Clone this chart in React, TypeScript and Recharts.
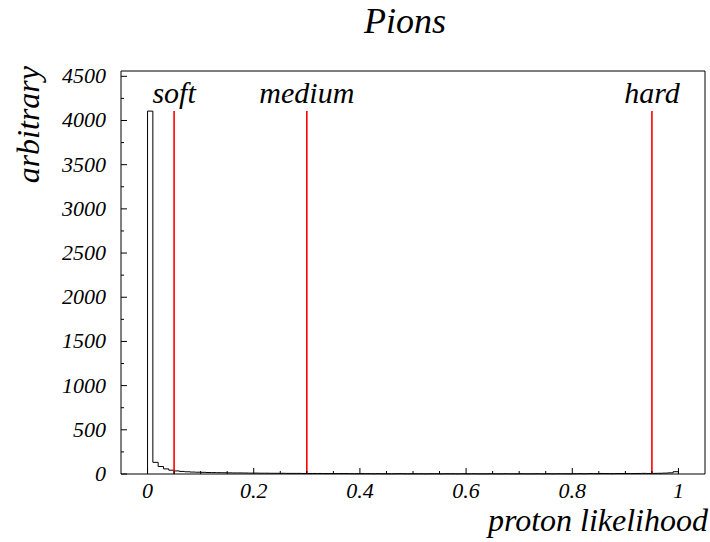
import React from "react";
import {
  ComposedChart,
  Line,
  XAxis,
  YAxis,
  ReferenceLine,
  ReferenceDot,
  Label,
} from "recharts";

const FONT = '"Liberation Serif", "Times New Roman", serif';

// proton likelihood histogram, bins of 0.01 from 0 to 1
const binWidth = 0.01;
const counts = [
  4106, 132, 85, 58, 43, 35, 29, 25, 22, 20,
  19, 17, 16, 15, 14, 13, 12, 12, 11, 10,
  10, 9, 9, 8, 8, 8, 7, 7, 7, 6,
  6, 6, 6, 5, 5, 5, 5, 5, 4, 4,
  4, 4, 3, 4, 3, 3, 3, 4, 3, 3,
  3, 3, 2, 3, 3, 2, 3, 3, 2, 3,
  2, 3, 2, 2, 3, 2, 2, 3, 2, 2,
  3, 2, 2, 3, 2, 3, 2, 3, 3, 2,
  3, 4, 3, 5, 4, 6, 5, 4, 5, 5,
  6, 5, 6, 7, 6, 7, 8, 10, 13, 26,
];

const cutNames = ["soft", "medium", "hard"];
const cutValues = [0.05, 0.3, 0.95];

const xTicks = [
  0, 0.05, 0.1, 0.15, 0.2, 0.25, 0.3, 0.35, 0.4, 0.45, 0.5,
  0.55, 0.6, 0.65, 0.7, 0.75, 0.8, 0.85, 0.9, 0.95, 1,
];
const xLabels = [0, 0.2, 0.4, 0.6, 0.8, 1];
const yTicks = [
  0, 250, 500, 750, 1000, 1250, 1500, 1750, 2000, 2250,
  2500, 2750, 3000, 3250, 3500, 3750, 4000, 4250, 4500,
];
const yLabels = [0, 500, 1000, 1500, 2000, 2500, 3000, 3500, 4000, 4500];

const last = counts.length * binWidth;
const histData = [
  { x: 0, y: 0 },
  ...counts.map((c, i) => ({ x: +(i * binWidth).toFixed(2), y: c })),
  { x: last, y: counts[counts.length - 1] },
  { x: last, y: 0 },
];
const cutTop = counts[0];

const isIn = (list: number[], v: number) => list.some((m) => Math.abs(m - v) < 1e-6);

const XTick = (props: any) => {
  const { x, y, payload } = props;
  const major = isIn(xLabels, payload.value);
  return (
    <g>
      <line x1={x} x2={x} y1={y} y2={y - (major ? 6 : 3)} stroke="#000" />
      {major && (
        <text x={x} y={y + 24} textAnchor="middle" fontFamily={FONT} fontStyle="italic" fontSize={22} fill="#000">
          {String(payload.value)}
        </text>
      )}
    </g>
  );
};

const YTick = (props: any) => {
  const { x, y, payload } = props;
  const major = isIn(yLabels, payload.value);
  return (
    <g>
      <line x1={x} x2={x + (major ? 6 : 3)} y1={y} y2={y} stroke="#000" />
      {major && (
        <text x={x - 15} y={y + 7} textAnchor="end" fontFamily={FONT} fontStyle="italic" fontSize={22} fill="#000">
          {String(payload.value)}
        </text>
      )}
    </g>
  );
};

export default function App() {
  return (
    <div style={{ position: "absolute", left: 0, top: 0, background: "#fff" }}>
      <ComposedChart width={710} height={542} data={histData} margin={{ top: 70, right: 0, bottom: 0, left: 0 }}>
        <XAxis
          dataKey="x"
          type="number"
          domain={[-0.05, 1.05]}
          ticks={xTicks}
          interval={0}
          tickSize={0}
          tickMargin={0}
          tickLine={false}
          tick={<XTick />}
          height={68}
          axisLine={{ stroke: "#000" }}
        >
          <Label
            content={({ viewBox }: any) => (
              <text
                x={viewBox.x + viewBox.width + 3}
                y={viewBox.y + 57}
                textAnchor="end"
                fontFamily={FONT}
                fontStyle="italic"
                fontSize={32}
                fill="#000"
              >
                proton likelihood
              </text>
            )}
          />
        </XAxis>
        <XAxis
          xAxisId="top"
          orientation="top"
          type="number"
          domain={[-0.05, 1.05]}
          height={1}
          tick={false}
          tickLine={false}
          axisLine={{ stroke: "#000" }}
        >
          <Label
            content={({ viewBox }: any) => (
              <text
                x={viewBox.x + viewBox.width / 2 - 8}
                y={33}
                textAnchor="middle"
                fontFamily={FONT}
                fontStyle="italic"
                fontSize={36}
                fill="#000"
              >
                Pions
              </text>
            )}
          />
        </XAxis>
        <YAxis
          type="number"
          domain={[0, 4560]}
          ticks={yTicks}
          interval={0}
          tickSize={0}
          tickMargin={0}
          tickLine={false}
          tick={<YTick />}
          width={121}
          axisLine={{ stroke: "#000" }}
        >
          <Label
            content={({ viewBox }: any) => (
              <text
                x={39}
                y={viewBox.y - 5}
                transform={`rotate(-90 39 ${viewBox.y - 5})`}
                textAnchor="end"
                fontFamily={FONT}
                fontStyle="italic"
                fontSize={32}
                fill="#000"
              >
                arbitrary
              </text>
            )}
          />
        </YAxis>
        <YAxis
          yAxisId="right"
          orientation="right"
          type="number"
          domain={[0, 1]}
          width={5}
          tick={false}
          tickLine={false}
          axisLine={{ stroke: "#000" }}
        />
        <Line
          dataKey="y"
          type="stepAfter"
          stroke="#000"
          strokeWidth={1}
          dot={false}
          activeDot={false}
          isAnimationActive={false}
        />
        {cutValues.map((c, i) => (
          <ReferenceLine
            key={cutNames[i]}
            segment={[
              { x: c, y: 0 },
              { x: c, y: cutTop },
            ]}
            stroke="#ff0000"
            strokeWidth={1.6}
          />
        ))}
        {cutValues.map((c, i) => (
          <ReferenceDot
            key={"l" + cutNames[i]}
            x={c}
            y={cutTop}
            r={0}
            stroke="none"
            fill="none"
            label={{
              value: cutNames[i],
              position: "top",
              offset: 8,
              fontFamily: FONT,
              fontStyle: "italic",
              fontSize: 30,
              fill: "#000",
            }}
          />
        ))}
      </ComposedChart>
    </div>
  );
}
